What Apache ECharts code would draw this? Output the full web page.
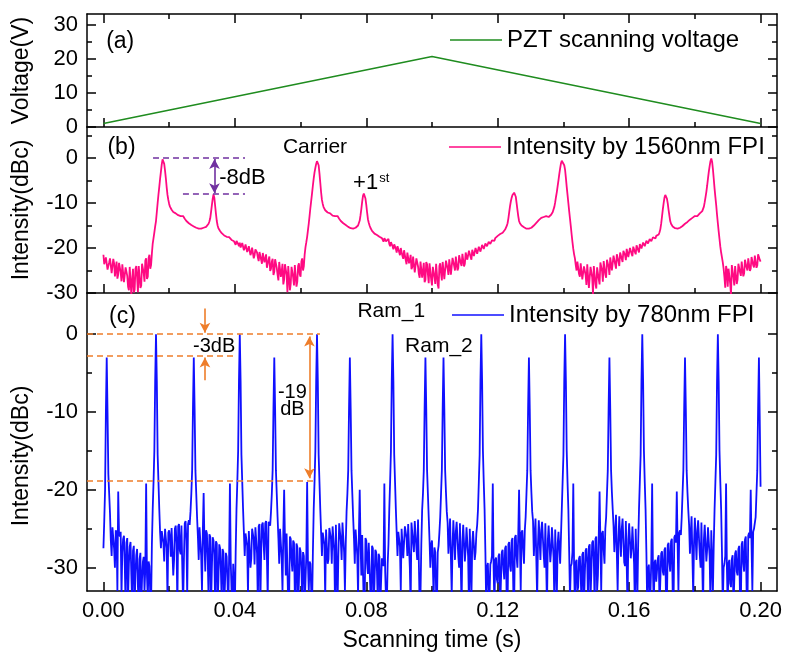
<!DOCTYPE html>
<html>
<head>
<meta charset="utf-8">
<script src="https://cdn.jsdelivr.net/npm/echarts@6/dist/echarts.min.js"></script>
<style>
  html, body { margin: 0; background: #fff; }
  #chart { width: 786px; height: 656px; }
</style>
</head>
<body>
<div id="chart"></div>
<script>
// FPI traces: samples every 0.5 ms from t = 0 (main) plus the readings half-way between them (mid)
const sampleStep = 0.0005;

// (a) PZT ramp
const voltT = [0, 0.1, 0.2];
const voltV = [1.0, 20.8, 1.0];

// (b) 1560nm FPI, dBc
const pink1 = [
  -21.5,-23.8,-22.0,-24.9,-22.3,-25.6,-22.4,-26.3,-23.0,-25.9,-23.2,-27.4,-23.7,-27.9,-24.0,-28.6,-24.2,-30.5,-24.6,-29.3,
  -24.0,-29.8,-23.8,-28.4,-23.1,-27.5,-22.3,-26.4,-21.5,-23.8,-19.0,-16.5,-14.0,-10.0,-6.4,-3.0,-0.3,-1.3,-4.5,-8.2,
  -10.2,-11.2,-11.8,-12.1,-12.3,-12.5,-12.8,-12.9,-12.7,-13.2,-13.8,-14.2,-14.5,-14.8,-15.0,-15.2,-15.4,-15.6,-15.7,-15.6,
  -15.7,-15.5,-15.4,-15.1,-14.6,-13.4,-10.5,-8.1,-10.6,-14.0,-15.6,-16.2,-16.7,-17.0,-17.3,-17.5,-17.8,-17.7,-18.2,-18.3,
  -18.6,-18.4,-19.1,-18.8,-19.5,-19.1,-20.0,-19.4,-20.4,-19.8,-21.0,-20.2,-21.6,-20.6,-22.1,-20.9,-22.6,-21.1,-23.2,-21.4
];
const pink2 = [
  -24.0,-21.9,-24.6,-22.4,-25.3,-22.7,-25.9,-23.1,-26.4,-23.5,-27.0,-23.8,-29.8,-24.1,-28.0,-24.2,-28.3,-23.9,-27.5,-23.4,
  -26.4,-22.3,-24.0,-19.8,-17.5,-14.5,-11.0,-7.8,-4.5,-2.2,-0.7,-1.6,-5.5,-9.3,-10.9,-11.6,-11.9,-12.2,-12.3,-12.6,
  -13.0,-12.9,-12.7,-13.2,-13.8,-14.2,-14.5,-14.8,-15.0,-15.3,-15.5,-15.7,-15.7,-15.6,-15.4,-15.0,-13.9,-11.3,-8.4,-8.0,
  -10.4,-13.6,-15.0,-15.9,-16.4,-16.8,-17.0,-17.2,-17.5,-17.7,-18.0,-17.8,-18.5,-18.2,-19.1,-18.7,-19.6,-19.2,-20.2,-19.6,
  -20.9,-20.0,-21.8,-20.5,-22.7,-21.0,-23.4,-21.5,-24.2,-22.1,-25.0,-22.6,-25.8,-23.0,-26.6,-23.3,-27.1,-23.6,-27.8,-23.8
];
const pink3 = [
  -28.3,-23.9,-28.0,-23.6,-29.0,-23.4,-27.2,-23.0,-26.6,-22.8,-26.0,-22.4,-25.5,-22.0,-25.0,-21.8,-24.5,-21.4,-24.0,-21.1,
  -23.5,-20.8,-23.0,-20.5,-22.6,-20.3,-22.1,-19.9,-21.6,-19.6,-21.0,-19.1,-20.5,-18.8,-19.9,-18.4,-19.3,-18.0,-18.4,-17.6,
  -17.3,-17.0,-16.8,-16.6,-16.2,-15.6,-14.5,-12.0,-9.6,-8.2,-7.7,-8.6,-11.5,-14.0,-14.8,-15.2,-15.4,-15.6,-15.7,-15.7,
  -15.6,-15.3,-15.0,-14.6,-14.2,-13.8,-13.4,-13.2,-13.1,-12.9,-13.0,-13.1,-12.8,-12.4,-11.6,-9.8,-7.5,-4.9,-2.3,-0.6,
  -0.8,-2.6,-6.4,-10.0,-13.5,-17.0,-20.2,-22.3,-25.0,-23.2,-26.4,-23.6,-27.3,-23.8,-28.2,-24.0,-28.8,-24.3,-30.3,-24.2
];
const pink4 = [
  -29.0,-24.0,-28.1,-23.5,-27.5,-23.1,-26.6,-22.8,-26.0,-22.4,-25.3,-21.9,-24.6,-21.6,-24.0,-21.1,-23.1,-20.7,-22.7,-20.5,
  -22.3,-20.2,-21.8,-19.9,-21.4,-19.6,-21.0,-19.3,-20.4,-19.0,-19.8,-18.6,-19.2,-18.2,-18.5,-17.8,-17.9,-17.5,-17.0,-15.8,
  -13.0,-10.0,-8.2,-9.0,-11.5,-14.0,-15.0,-15.4,-15.6,-15.7,-15.7,-15.5,-15.2,-14.9,-14.6,-14.3,-14.0,-13.7,-13.4,-13.1,
  -12.9,-13.0,-12.6,-12.3,-12.0,-11.4,-9.8,-7.5,-4.5,-1.8,-0.1,-2.5,-6.8,-10.5,-14.5,-18.0,-21.0,-23.2,-26.5,-24.0,
  -28.6,-24.4,-30.4,-24.2,-28.3,-23.7,-27.0,-23.4,-26.2,-23.1,-25.6,-22.8,-25.0,-22.4,-24.6,-22.1,-24.3,-21.8,-23.9,-21.5,-23.0
];
const pinkMid1 = [
  -23.6,-22.1,-24.8,-23.2,-22.5,-25.9,-23.4,-24.6,-26.8,-23.3,-25.4,-23.6,-27.6,-24.3,-26.2,-29.4,-24.5,-27.0,-29.9,-24.6,
  -26.5,-24.0,-28.9,-23.5,-25.6,-22.8,-26.9,-22.2,-24.6,-21.2,-17.8,-15.2,-12.0,-8.1,-4.6,-1.4,-0.4,-2.8,-6.5,-9.3,
  -10.8,-11.5,-12.0,-12.2,-12.4,-12.7,-12.8,-12.7,-12.9,-13.5,-14.0,-14.4,-14.6,-14.9,-15.1,-15.3,-15.5,-15.7,-15.6,-15.7,
  -15.6,-15.5,-15.3,-14.9,-14.1,-12.0,-9.1,-8.8,-12.4,-15.0,-15.9,-16.5,-16.9,-17.2,-17.4,-17.7,-17.6,-18.0,-18.1,-18.5,
  -19.3,-18.2,-19.6,-19.9,-18.9,-20.5,-19.2,-20.9,-19.6,-21.6,-19.9,-22.3,-20.3,-21.0,-22.9,-20.6,-23.5,-21.0,-22.4,-24.4
];
const pinkMid2 = [
  -22.6,-25.1,-23.0,-26.0,-22.5,-24.4,-27.2,-23.0,-25.2,-28.1,-23.6,-26.0,-24.0,-29.4,-24.2,-26.6,-23.8,-28.6,-24.0,-25.9,
  -23.0,-25.0,-21.4,-18.7,-16.0,-12.8,-9.4,-6.1,-3.2,-1.3,-0.9,-3.4,-7.6,-10.2,-11.3,-11.8,-12.1,-12.3,-12.5,-12.8,
  -12.9,-12.8,-12.9,-13.5,-14.0,-14.4,-14.6,-14.9,-15.2,-15.4,-15.6,-15.7,-15.7,-15.5,-15.2,-14.6,-12.7,-9.7,-7.9,-9.0,
  -12.1,-14.4,-15.5,-16.2,-16.6,-16.9,-17.1,-17.4,-17.6,-17.8,-18.6,-17.6,-18.9,-18.0,-19.6,-18.5,-20.3,-19.0,-21.0,-19.4,
  -21.6,-20.3,-22.4,-20.9,-23.6,-21.2,-22.8,-24.7,-21.9,-25.4,-22.3,-24.1,-26.6,-22.7,-25.0,-27.6,-23.1,-25.8,-23.4,-27.0
];
const pinkMid3 = [
  -24.2,-26.5,-23.5,-28.2,-24.0,-25.6,-23.1,-26.9,-22.8,-24.6,-22.5,-25.9,-22.2,-24.0,-21.9,-25.0,-21.6,-23.4,-21.3,-24.1,
  -21.0,-22.6,-20.6,-22.0,-20.4,-21.8,-20.0,-21.3,-19.7,-20.8,-19.3,-20.2,-19.0,-19.6,-18.6,-19.1,-18.3,-18.6,-17.8,-17.5,
  -17.1,-16.9,-16.7,-16.4,-15.9,-15.1,-13.4,-10.7,-8.8,-7.9,-8.0,-10.0,-12.9,-14.5,-15.0,-15.3,-15.5,-15.7,-15.7,-15.7,
  -15.5,-15.2,-14.8,-14.4,-14.0,-13.6,-13.3,-13.1,-13.0,-12.9,-13.1,-13.0,-12.6,-12.0,-10.8,-8.6,-6.2,-3.5,-1.2,-0.5,
  -1.6,-4.4,-8.2,-11.8,-15.2,-18.7,-21.4,-23.8,-23.0,-25.8,-23.4,-27.0,-24.1,-26.0,-23.6,-28.9,-24.2,-26.5,-24.0,-28.0
];
const pinkMid4 = [
  -24.3,-26.9,-23.2,-25.1,-22.9,-25.9,-22.6,-24.2,-22.1,-25.0,-21.7,-23.6,-21.4,-23.0,-21.0,-22.4,-20.6,-21.6,-20.2,-22.0,
  -20.0,-21.3,-19.7,-20.9,-19.4,-20.5,-19.1,-20.1,-18.8,-19.6,-18.4,-19.0,-18.0,-18.5,-17.6,-17.9,-17.3,-17.4,-16.5,-14.6,
  -11.4,-8.8,-8.0,-10.1,-12.8,-14.6,-15.2,-15.5,-15.7,-15.7,-15.6,-15.4,-15.1,-14.8,-14.5,-14.2,-13.8,-13.5,-13.3,-13.0,
  -12.8,-12.9,-12.5,-12.2,-11.8,-10.8,-8.7,-6.1,-3.0,-0.7,-0.8,-4.6,-8.7,-12.6,-16.3,-19.7,-22.1,-24.6,-28.8,-25.0,
  -24.6,-27.9,-23.8,-26.6,-24.0,-28.0,-23.5,-25.4,-23.0,-26.3,-22.6,-24.4,-22.3,-25.1,-22.0,-23.8,-21.7,-24.4,-21.4,-22.6
];

// (c) 780nm FPI, dBc
const blue1 = [
  -27.5,-20,-3,-18,-23,-28.5,-25,-30,-25.5,-20.2,-26,-33.5,-26.3,-29.8,-26.8,-34,-27.3,-31,-27.8,-35,
  -28.4,-32.5,-28.9,-35,-29.3,-33,-19.2,-34,-29.8,-35,-22.5,-15,0,-15.5,-22.5,-27.5,-25.4,-29.2,-25.0,-34,
  -25.2,-28.6,-24.8,-29.0,-24.6,-35,-24.4,-28.3,-24.5,-28.9,-24.0,-33.5,-23.9,-22.8,-17.5,-3,-17.5,-23.5,-29,-25.0,
  -33,-20.4,-30.5,-25.6,-34,-26.0,-30.2,-26.5,-35,-26.9,-31.5,-27.5,-34.5,-28.0,-32,-28.6,-35,-19.2,-33,-29.5,
  -35,-22.5,-15,0,-15.5,-22.5,-28.5,-25.4,-33.5,-25.1,-28.8,-24.9,-29.6,-24.6,-35,-24.4,-28.2,-24.2,-29.0,-24.0
];
const blue2 = [
  -34,-23.9,-22.8,-17.5,-3,-17.5,-23.5,-29.5,-25.2,-33,-20,-31,-25.8,-34.5,-26.3,-30.5,-26.8,-35,-27.3,-31.8,
  -27.9,-34,-28.5,-35,-19,-33,-29.5,-35,-22.5,-15,0,-15.5,-22.5,-28.5,-25.4,-34,-25.0,-28.9,-24.8,-29.5,
  -24.5,-35,-24.3,-28.4,-24.1,-29.0,-24.0,-33,-22.8,-17.5,-3,-17.5,-23.5,-29.5,-25.3,-33.5,-20,-31,-26.0,-34.5,
  -26.5,-30.8,-27.0,-35,-27.5,-32,-28.0,-34.5,-28.6,-35,-29.2,-19.2,-34,-29.6,-22.5,-15,0,-15.5,-22.5,-28.5,
  -25.2,-33,-24.8,-29.0,-24.5,-28.5,-24.2,-35,-24.0,-28.0,-23.8,-29.0,-23.6,-33.5,-22.6,-17.5,-3,-17.5,-23.5,-30
];
const blue3 = [
  -26.5,-34,-28.0,-35,-27.2,-23.5,-17.5,-3,-17.5,-22.8,-28.2,-23.7,-33.5,-23.9,-29.0,-24.1,-28.5,-24.3,-35,-24.5,
  -29.2,-24.8,-28.6,-25.0,-34,-25.3,-29.0,-25.6,-22.5,-15.5,0,-15,-22.5,-35,-29.4,-34,-29.2,-19.2,-35,-28.7,
  -32,-28.2,-35,-27.7,-31.5,-27.2,-34.5,-26.7,-30.5,-26.2,-35,-25.8,-30,-20,-33,-25.2,-29.5,-23.5,-17.5,-3,
  -17.5,-22.8,-28.5,-23.7,-34,-23.9,-29.0,-24.1,-28.4,-24.3,-35,-24.6,-29.3,-24.8,-28.7,-25.1,-33.5,-25.4,-29.5,-22.5,
  -15.5,0,-15,-22.5,-34,-29.5,-19.2,-35,-29.0,-32.5,-28.5,-35,-28.0,-31,-27.5,-34.5,-27.0,-30.5,-26.5,-35
];
const blue4 = [
  -26.0,-31,-20.2,-33,-25.3,-29.5,-23.5,-17.5,-3,-17.5,-22.5,-28.0,-23.2,-33,-23.4,-28.6,-23.7,-29.3,-24.0,-35,
  -24.3,-28.8,-24.7,-29.5,-25.0,-34,-22.5,-15.5,0,-15,-22.5,-35,-29.6,-33,-19.2,-35,-29.0,-32,-28.4,-35,
  -27.9,-31,-27.4,-34.5,-26.8,-30.5,-26.3,-35,-25.8,-20.2,-33,-25.2,-23.5,-17.5,-3,-17.5,-22.6,-28.2,-23.4,-33.5,
  -23.6,-29.0,-23.9,-28.4,-24.2,-35,-24.5,-29.2,-24.8,-28.6,-25.2,-33,-22.5,-15.5,0,-15,-22.5,-35,-29.5,-19.2,
  -35,-29.0,-32.5,-28.4,-35,-27.8,-31,-27.2,-34.5,-26.6,-30.5,-26.0,-35,-25.5,-20,-33,-25.0,-23.5,-17.5,-3,-19.6
];
const blueMid1 = [
  -24,-10,-10,-20.5,-26.5,-24.8,-27.6,-25.2,-33,-25.6,-25.4,-28.0,-25.9,-35,-26.2,-29.5,-26.7,-35,-27.2,-30.8,
  -27.6,-35,-28.1,-31.5,-28.6,-30,-31,-29.2,-33.5,-27,-19,-6,-6,-19,-25.5,-25.3,-26.8,-25.0,-27.5,-25.5,
  -26.2,-24.9,-31,-25.0,-26.9,-24.7,-27.8,-24.6,-35,-24.3,-26.5,-24.4,-24.5,-20.5,-9.5,-9.5,-20.5,-26,-24.8,-28.5,
  -25.3,-27,-25.2,-29,-25.7,-35,-26.1,-28.3,-26.6,-35,-27.0,-30.4,-27.6,-35,-28.1,-31.8,-28.7,-29.3,-35,-29.6,
  -28,-19,-6,-6,-19,-25.5,-25.6,-27.2,-25.3,-30,-25.0,-26.4,-24.8,-28.2,-24.7,-35,-24.5,-26.8,-24.3,-28.6
];
const blueMid2 = [
  -24.1,-24.6,-20.5,-9.5,-9.5,-20.5,-26.2,-25.0,-28.8,-25.4,-26.5,-25.6,-35,-26.0,-29.0,-26.5,-33.5,-26.9,-35,-27.4,
  -30.2,-28.0,-35,-28.4,-29.5,-29.2,-33,-28,-19,-6,-6,-19,-25.5,-25.5,-27.0,-25.1,-29.5,-24.9,-26.3,-24.7,
  -27.9,-24.5,-35,-24.3,-26.6,-24.2,-28.0,-27,-20.5,-9.5,-9.5,-20.5,-26.2,-25.1,-28.4,-25.5,-26.8,-25.8,-35,-26.2,
  -29.5,-26.8,-33,-27.2,-35,-27.7,-30.5,-28.2,-35,-28.8,-29.8,-30.5,-35,-27,-19,-6,-6,-19,-25.5,-25.4,
  -27.3,-25.0,-28.8,-24.7,-26.2,-24.4,-30,-24.2,-26.9,-24.0,-27.5,-23.8,-35,-27,-20.5,-9.5,-9.5,-20.5,-26.5,-27.0
];
const blueMid3 = [
  -29.5,-27.4,-33,-28.0,-25.5,-20.5,-9.5,-9.5,-20.3,-24.2,-26.0,-23.9,-27.2,-24.0,-25.4,-24.3,-30,-24.4,-26.7,-24.7,
  -27.5,-24.9,-35,-25.2,-26.8,-25.4,-28,-24.5,-19,-6,-6,-19,-28,-30.0,-33,-29.6,-28.5,-30,-29.0,-31.5,
  -28.5,-35,-28.0,-30.2,-27.5,-35,-27.0,-29.8,-26.5,-33,-26.1,-28.6,-25.8,-26.5,-25.5,-27.6,-25.2,-20.5,-9.5,-9.5,
  -20.3,-24.0,-25.8,-23.8,-27.0,-24.0,-25.2,-24.2,-30,-24.5,-26.5,-24.7,-27.8,-24.9,-35,-25.2,-26.9,-25.5,-26,-19,
  -6,-6,-19,-28,-29.8,-28.0,-30,-29.3,-33,-28.8,-30.8,-28.3,-35,-27.8,-29.5,-27.3,-34,-26.8,-29.0,-26.3
];
const blueMid4 = [
  -33,-26.0,-26.5,-25.6,-27.8,-25.0,-20.5,-9.5,-9.5,-20.3,-24.6,-25.4,-23.3,-26.4,-23.5,-25.0,-23.8,-29.8,-24.1,-26.4,
  -24.4,-27.5,-24.8,-35,-25.1,-27,-19,-6,-6,-19,-28,-30.2,-33.5,-29.0,-30.5,-29.3,-31.8,-28.8,-35,-28.2,
  -30.5,-27.7,-35,-27.1,-29.4,-26.6,-33,-26.1,-26.8,-27.0,-25.5,-25.8,-20.5,-9.5,-9.5,-20.3,-24.5,-25.6,-23.5,-26.8,
  -23.7,-25.3,-24.0,-30,-24.3,-26.4,-24.6,-27.6,-24.9,-35,-25.2,-27,-19,-6,-6,-19,-28,-30.0,-28.5,-30,
  -29.4,-32,-28.9,-35,-28.2,-30.5,-27.6,-34,-27.0,-29.5,-26.4,-33,-25.9,-26.2,-27,-25.4,-24.8,-20.5,-9.5,-11
];

// ticks
const timeMajor = [0, 0.04, 0.08, 0.12, 0.16, 0.2];
const timeMinor = [0.02, 0.06, 0.1, 0.14, 0.18];
const voltMajor = [0, 10, 20, 30];
const voltMinor = [5, 15, 25];
const dbcMajor = [-30, -20, -10, 0];
const dbcMinorB = [-25, -15, -5, 5];
const dbcMinorC = [-25, -15, -5];

const FONT = '"Liberation Sans", Arial, sans-serif';
const BLACK = { color: '#000', width: 1.5 };

function traceData(main, mid) {
  const a = [].concat(...main), b = [].concat(...mid);
  const out = [];
  a.forEach((y, i) => {
    out.push([+(i * sampleStep).toFixed(5), y]);
    if (i < b.length) out.push([+((i + 0.5) * sampleStep).toFixed(5), b[i]]);
  });
  return out;
}

// three stacked panels, each with a twin grid carrying the short (minor) ticks
const panels = [
  { top: 14, height: 113, min: 0, max: 33.3, major: voltMajor, minor: voltMinor, name: 'Voltage(V)' },
  { top: 127, height: 166, min: -30, max: 6.9, major: dbcMajor, minor: dbcMinorB, name: 'Intensity(dBc)' },
  { top: 293, height: 298, min: -33, max: 5.3, major: dbcMajor, minor: dbcMinorC, name: 'Intensity(dBc)' }
];

const grid = [], xAxis = [], yAxis = [];
function xAx(g, position, ticks, len, showLine, extra) {
  return Object.assign({
    type: 'value', gridIndex: g, position, min: -0.005, max: 0.205,
    axisLine: { show: showLine, onZero: false, lineStyle: BLACK },
    axisTick: { show: true, inside: true, length: len, customValues: ticks, lineStyle: BLACK },
    axisLabel: { show: false },
    splitLine: { show: false }
  }, extra || {});
}
function yAx(g, position, p, ticks, len, showLine, extra) {
  return Object.assign({
    type: 'value', gridIndex: g, position, min: p.min, max: p.max,
    axisLine: { show: showLine, onZero: false, lineStyle: BLACK },
    axisTick: { show: true, inside: true, length: len, customValues: ticks, lineStyle: BLACK },
    axisLabel: { show: false },
    splitLine: { show: false }
  }, extra || {});
}

panels.forEach((p, k) => {
  const gMain = grid.length;
  grid.push({ left: 87, width: 690, top: p.top, height: p.height });
  grid.push({ left: 87, width: 690, top: p.top, height: p.height });
  const gMinor = gMain + 1;

  if (k === 2) {
    xAxis.push(xAx(gMain, 'bottom', timeMajor, 9, true, {
      axisLabel: {
        show: true, customValues: timeMajor, fontSize: 22, color: '#000', margin: 9,
        fontFamily: FONT, formatter: v => v.toFixed(2)
      },
      name: 'Scanning time (s)', nameLocation: 'middle', nameGap: 38,
      nameTextStyle: { fontSize: 23, color: '#000', fontFamily: FONT }
    }));
  } else {
    xAxis.push(xAx(gMain, 'bottom', timeMajor, 9, true));
  }
  if (k === 0) xAxis.push(xAx(gMain, 'top', timeMajor, 9, true));
  xAxis.push(xAx(gMinor, 'bottom', timeMinor, 5, false));
  if (k === 0) xAxis.push(xAx(gMinor, 'top', timeMinor, 5, false));

  yAxis.push(yAx(gMain, 'left', p, p.major, 9, true, {
    axisLabel: {
      show: true, customValues: p.major, fontSize: 22, color: '#000', margin: 9, fontFamily: FONT
    },
    name: p.name, nameLocation: 'middle', nameGap: 54,
    nameTextStyle: {
      fontSize: 23, color: '#000', fontFamily: FONT,
      padding: k === 2 ? [0, 28, 0, 0] : 0
    }
  }));
  yAxis.push(yAx(gMain, 'right', p, p.major, 9, true));
  yAxis.push(yAx(gMinor, 'left', p, p.minor, 5, false));
  yAxis.push(yAx(gMinor, 'right', p, p.minor, 5, false));
});

function note(coord, text, size, extra) {
  return {
    coord, value: text,
    label: Object.assign({ show: true, position: 'inside', formatter: text, fontSize: size, color: '#000', fontFamily: FONT }, extra || {})
  };
}
function dash(x0, x1, y) {
  return [{ coord: [x0, y], symbol: 'none' }, { coord: [x1, y], symbol: 'none' }];
}
function arrow(x, y0, y1, both) {
  return [
    { coord: [x, y0], symbol: both ? 'arrow' : 'none', symbolSize: [8, 10], lineStyle: { type: 'solid' } },
    { coord: [x, y1], symbol: 'arrow', symbolSize: [8, 10], lineStyle: { type: 'solid' } }
  ];
}
const markPointBase = {
  symbol: 'rect', symbolSize: 1, itemStyle: { color: 'rgba(0,0,0,0)' }, silent: true, animation: false
};

const purple = '#7030a0', orange = '#ee7d2a';

const option = {
  animation: false,
  textStyle: { fontFamily: FONT },
  grid, xAxis, yAxis,
  legend: [
    { data: ['PZT scanning voltage'], left: 450, top: 28 },
    { data: ['Intensity by 1560nm FPI'], left: 449, top: 135 },
    { data: ['Intensity by 780nm FPI'], left: 452, top: 303 }
  ].map(l => Object.assign({
    padding: 0, icon: 'rect', itemWidth: 52, itemHeight: 1.6, itemGap: 0, selectedMode: false,
    textStyle: { fontSize: 24, color: '#000', fontFamily: FONT }
  }, l)),
  series: [
    {
      name: 'PZT scanning voltage', type: 'line', xAxisIndex: 0, yAxisIndex: 0,
      data: voltT.map((t, i) => [t, voltV[i]]),
      color: '#1f8c1f', symbol: 'none', lineStyle: { width: 1.5, color: '#1f8c1f' },
      markPoint: Object.assign({ data: [note([0.0051, 25.1], '(a)', 23)] }, markPointBase)
    },
    {
      name: 'Intensity by 1560nm FPI', type: 'line', xAxisIndex: 4, yAxisIndex: 4,
      data: traceData([pink1, pink2, pink3, pink4], [pinkMid1, pinkMid2, pinkMid3, pinkMid4]),
      color: '#ff0a82', symbol: 'none', lineStyle: { width: 1.8, color: '#ff0a82' },
      markLine: {
        silent: true, animation: false, label: { show: false },
        lineStyle: { color: purple, width: 1.6, type: [6, 4] },
        data: [
          dash(0.0151, 0.0431, 0),
          dash(0.0242, 0.0431, -8),
          arrow(0.0338, -0.2, -7.8, true)
        ]
      },
      markPoint: Object.assign({
        data: [
          note([0.0055, 2.3], '(b)', 23),
          note([0.0644, 2.5], 'Carrier', 21),
          note([0.0423, -4.4], '-8dB', 22),
          note([0.0815, -5.6], '{a|+1}{s|st}', 22, {
            rich: { a: { fontSize: 22, color: '#000' }, s: { fontSize: 13, color: '#000', verticalAlign: 'top', padding: [0, 0, 10, 1] } }
          })
        ]
      }, markPointBase)
    },
    {
      name: 'Intensity by 780nm FPI', type: 'line', xAxisIndex: 6, yAxisIndex: 8,
      data: traceData([blue1, blue2, blue3, blue4], [blueMid1, blueMid2, blueMid3, blueMid4]),
      color: '#1010ff', symbol: 'none', lineStyle: { width: 1.8, color: '#1010ff' },
      markLine: {
        silent: true, animation: false, label: { show: false },
        lineStyle: { color: orange, width: 1.6, type: [6, 4] },
        data: [
          dash(-0.005, 0.0659, 0),
          dash(-0.005, 0.0395, -2.8),
          dash(-0.005, 0.0639, -18.8),
          arrow(0.0309, 3.3, 0.2, false),
          arrow(0.0309, -5.9, -3.0, false),
          arrow(0.0627, -0.3, -18.5, true)
        ]
      },
      markPoint: Object.assign({
        data: [
          note([0.0058, 2.2], '(c)', 23),
          note([0.0337, -1.6], '-3dB', 20),
          note([0.0575, -7.5], '-19', 20),
          note([0.0575, -9.7], 'dB', 20),
          note([0.0876, 2.9], 'Ram_1', 21),
          note([0.1021, -1.6], 'Ram_2', 21)
        ]
      }, markPointBase)
    }
  ]
};

const chart = echarts.init(document.getElementById('chart'), null, { renderer: 'canvas' });
chart.setOption(option);
</script>
</body>
</html>
